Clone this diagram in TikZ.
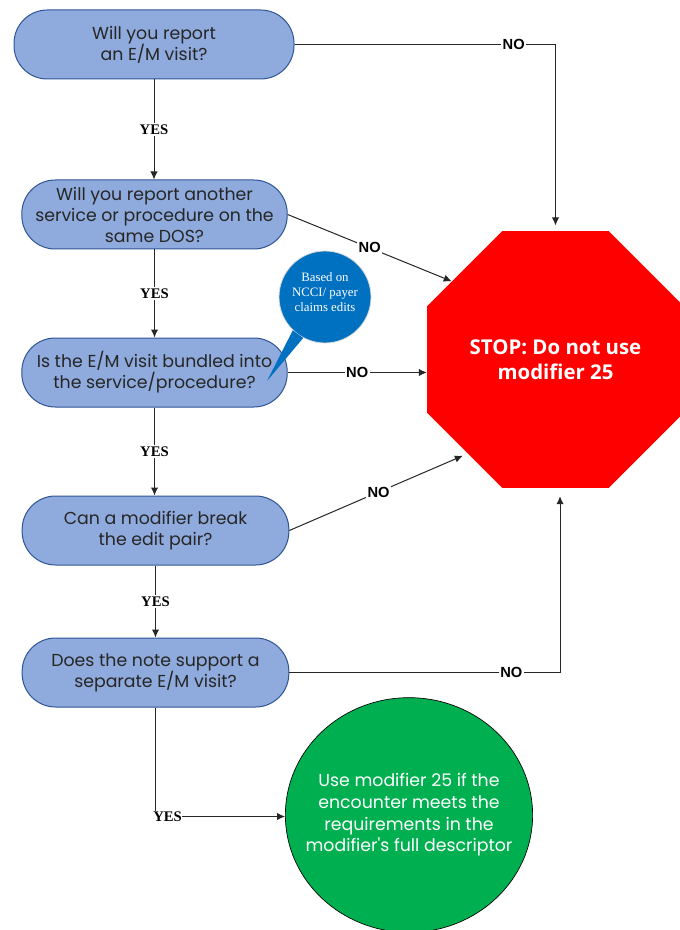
\documentclass[tikz,border=0pt]{standalone}
\usepackage{fontspec}
\newfontfamily\boxfont{Poppins}
\newfontfamily\stopfont{Open Sans}
\newfontfamily\nofont{Liberation Sans}
\newfontfamily\yesfont{Liberation Serif}
\usetikzlibrary{shapes.geometric,arrows.meta}
\definecolor{boxfill}{HTML}{8FAADC}
\definecolor{boxline}{HTML}{2F5597}
\definecolor{callblue}{HTML}{0070C0}
\definecolor{stopred}{HTML}{FF0000}
\definecolor{gogreen}{HTML}{00B050}
\definecolor{linecol}{HTML}{262626}
\begin{document}
\begin{tikzpicture}[x=0.75pt,y=-0.75pt,
 qbox/.style={draw=boxline, line width=0.75pt, fill=boxfill, rounded corners=25pt,
   minimum height=51.75pt, align=center, text=black!85, inner sep=0pt,
   font=\boxfont\fontsize{13}{15.75}\selectfont},
 conn/.style={draw=linecol, line width=0.75pt},
 arr/.style={conn, -{Latex[length=6pt,width=5.5pt]}},
 yeslab/.style={fill=white, inner sep=1.5pt, font=\yesfont\bfseries\fontsize{11}{12}\selectfont},
 nolab/.style={fill=white, inner sep=1pt, font=\nofont\bfseries\fontsize{11}{12}\selectfont},
]
\fill[white] (0,0) rectangle (679,930);
\useasboundingbox (0,0) rectangle (679,930);

% question boxes
\node[qbox, minimum width=210pt] (q1) at (154,44.5) {Will you report\\an E/M visit?};
\node[qbox, minimum width=199pt] (q2) at (154.5,214.5) {Will you report another\\service or procedure on the\\same DOS?};
\node[qbox, minimum width=199pt] (q3) at (154.5,372.5) {Is the E/M visit bundled into\\the service/procedure?};
\node[qbox, minimum width=200pt] (q4) at (155.5,530.5) {Can a modifier break\\the edit pair?};
\node[qbox, minimum width=200pt] (q5) at (155.5,672.5) {Does the note support a\\separate E/M visit?};

% stop sign
\node[regular polygon, regular polygon sides=8, minimum size=208.5pt, fill=stopred,
  inner sep=0pt, text=white, align=center,
  font=\stopfont\bfseries\fontsize{15.3}{18.75}\selectfont] (stop) at (555.5,359.5)
  {STOP: Do not use\\modifier 25};

% green result
\node[ellipse, draw=black, line width=0.5pt, fill=gogreen, minimum width=181.5pt,
  minimum height=176pt, inner xsep=-12pt, inner ysep=0pt, text=white, align=center,
  font=\boxfont\fontsize{13}{16.25}\selectfont] (use) at (409,815)
  {Use modifier 25 if the\\encounter meets the\\requirements in the\\modifier's full descriptor};

% callout
\node[circle, fill=callblue, draw=white!85!black, line width=0.6pt, minimum size=69pt,
  inner sep=0pt, text=white, align=center,
  font=\yesfont\fontsize{9.6}{11.25}\selectfont] (note) at (325,297)
  {Based on\\NCCI/ payer\\claims edits\\[-4pt]\mbox{}};
\coordinate (tip) at (267,381);
\fill[callblue] (note.226) -- (tip) -- (note.242) -- cycle;

% YES connectors
\draw[arr] (q1.south) -- node[yeslab]{YES} (q1.south |- q2.north);
\draw[arr] (q2.south) -- node[yeslab]{YES} (q2.south |- q3.north);
\draw[arr] (q3.south) -- node[yeslab]{YES} (q3.south |- q4.north);
\draw[arr] (q4.south) -- node[yeslab]{YES} (q4.south |- q5.north);

\node[yeslab, anchor=west, inner sep=0pt] (y5) at (153,816.5) {YES};
\draw[conn] (q5.south) -- (q5.south |- y5.north);
\draw[arr] (y5.east) -- (y5.east -| use.west);

% NO connectors
\draw[arr, shorten >=4pt] (q1.east) -| node[nolab, pos=0.42]{NO} (stop.90);
\draw[arr] (q2.east) -- node[nolab]{NO} (stop.143);
\draw[arr] (q3.east) -- node[nolab]{NO} (q3.east -| stop.180);
\draw[arr, shorten >=4pt] (q4.east) -- node[nolab]{NO} (stop.227);
\draw[arr, shorten >=6pt] (q5.east) -| node[nolab, pos=0.41]{NO} (stop.-88);
\end{tikzpicture}
\end{document}
